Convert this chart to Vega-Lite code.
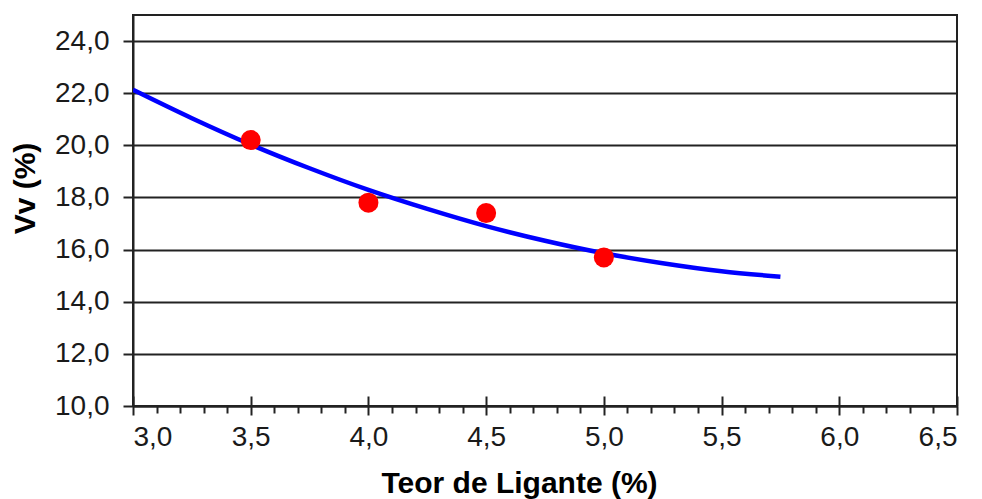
{
  "$schema": "https://vega.github.io/schema/vega-lite/v6.json",
  "width": 824,
  "height": 391,
  "autosize": {"type": "none"},
  "padding": {"left": 133, "top": 15, "right": 25, "bottom": 93},
  "background": "white",
  "config": {
    "view": {"stroke": "#222222", "strokeWidth": 2},
    "axis": {
      "labelFont": "Liberation Sans",
      "titleFont": "Liberation Sans",
      "labelFontSize": 28,
      "titleFontSize": 30,
      "labelColor": "#1a1a1a",
      "titleColor": "#000000",
      "domainColor": "#222222",
      "domainWidth": 2,
      "tickColor": "#222222",
      "tickWidth": 2
    }
  },
  "datasets": {
    "fit": [
      {"teor": 3.0, "vv": 22.13},
      {"teor": 3.25, "vv": 21.04},
      {"teor": 3.5, "vv": 20.03},
      {"teor": 3.75, "vv": 19.12},
      {"teor": 4.0, "vv": 18.29},
      {"teor": 4.25, "vv": 17.56},
      {"teor": 4.5, "vv": 16.9},
      {"teor": 4.75, "vv": 16.34},
      {"teor": 5.0, "vv": 15.86},
      {"teor": 5.25, "vv": 15.48},
      {"teor": 5.5, "vv": 15.17},
      {"teor": 5.75, "vv": 14.96}
    ],
    "obs": [
      {"teor": 3.5, "vv": 20.2},
      {"teor": 4.0, "vv": 17.8},
      {"teor": 4.5, "vv": 17.4},
      {"teor": 5.0, "vv": 15.7}
    ]
  },
  "layer": [
    {
      "data": {"name": "fit"},
      "mark": {"type": "line", "color": "#0000ff", "strokeWidth": 4.5, "interpolate": "monotone", "clip": true},
      "encoding": {
        "x": {
          "field": "teor", "type": "quantitative",
          "scale": {"domain": [3, 6.5], "nice": false, "zero": false},
          "axis": {
            "orient": "bottom",
            "values": [3, 3.5, 4, 4.5, 5, 5.5, 6, 6.5],
            "labelExpr": "replace(format(datum.value, '.1f'), '.', ',')",
            "tickSize": 9,
            "labelPadding": 8,
            "grid": false,
            "title": "Teor de Ligante (%)",
            "titleX": 386,
            "titleY": 86,
            "titleBaseline": "alphabetic",
            "titleAlign": "center",
            "titleAnchor": null
          }
        },
        "y": {
          "field": "vv", "type": "quantitative",
          "scale": {"domain": [10, 25], "nice": false, "zero": false},
          "axis": {
            "values": [10, 12, 14, 16, 18, 20, 22, 24],
            "labelExpr": "replace(format(datum.value, '.1f'), '.', ',')",
            "tickSize": 10,
            "labelPadding": 14,
            "grid": true,
            "gridColor": "#222222",
            "gridWidth": 2,
            "gridOpacity": 1,
            "title": "Vv (%)",
            "titleAngle": -90,
            "titleX": -99,
            "titleY": 173,
            "titleBaseline": "alphabetic",
            "titleAlign": "center"
          }
        }
      }
    },
    {
      "data": {"name": "obs"},
      "mark": {"type": "circle", "color": "#ff0000", "opacity": 1, "size": 400},
      "encoding": {
        "x": {
          "field": "teor", "type": "quantitative",
          "axis": {
            "orient": "bottom",
            "values": [3.1, 3.2, 3.3, 3.4, 3.6, 3.7, 3.8, 3.9, 4.1, 4.2, 4.3, 4.4, 4.6, 4.7, 4.8, 4.9, 5.1, 5.2, 5.3, 5.4, 5.6, 5.7, 5.8, 5.9, 6.1, 6.2, 6.3, 6.4],
            "labels": false,
            "domain": false,
            "grid": false,
            "tickSize": 7,
            "title": null
          }
        },
        "y": {"field": "vv", "type": "quantitative"}
      }
    },
    {
      "data": {"name": "obs"},
      "mark": {"type": "circle", "opacity": 0},
      "encoding": {
        "x": {
          "field": "teor", "type": "quantitative",
          "axis": {
            "orient": "bottom",
            "values": [3, 3.5, 4, 4.5, 5, 5.5, 6, 6.5],
            "labels": false,
            "domain": false,
            "grid": false,
            "tickSize": -10,
            "title": null
          }
        },
        "y": {"field": "vv", "type": "quantitative"}
      }
    }
  ],
  "resolve": {"axis": {"x": "independent"}}
}
